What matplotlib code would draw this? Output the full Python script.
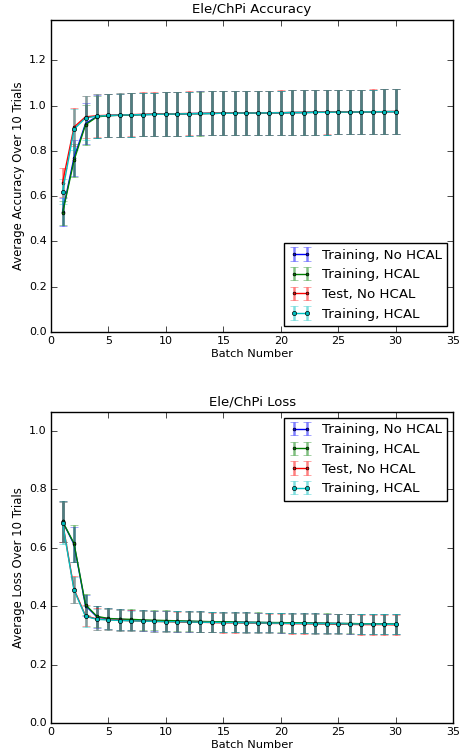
import numpy as np
import matplotlib
matplotlib.use('Agg')
import matplotlib.pyplot as plt

plt.style.use('classic')

batches = list(range(1, 31))
labels = ['Training, No HCAL', 'Training, HCAL', 'Test, No HCAL', 'Training, HCAL']
colors = ['b', 'g', 'r', 'c']

# accuracy means
acc_train_nohcal = [0.530, 0.770, 0.920, 0.952, 0.956, 0.957, 0.959, 0.960, 0.961, 0.962,
                    0.963, 0.964, 0.965, 0.965, 0.966, 0.966, 0.967, 0.967, 0.968, 0.968,
                    0.969, 0.969, 0.970, 0.970, 0.971, 0.971, 0.972, 0.972, 0.973, 0.973]
acc_train_hcal = [0.525, 0.758, 0.915, 0.950, 0.955, 0.957, 0.958, 0.960, 0.961, 0.962,
                  0.963, 0.964, 0.964, 0.965, 0.966, 0.966, 0.967, 0.967, 0.968, 0.968,
                  0.969, 0.969, 0.970, 0.970, 0.971, 0.971, 0.972, 0.972, 0.973, 0.973]
acc_test_nohcal = [0.660, 0.905, 0.950, 0.955, 0.957, 0.958, 0.960, 0.961, 0.962, 0.963,
                   0.964, 0.965, 0.965, 0.966, 0.966, 0.967, 0.967, 0.968, 0.968, 0.969,
                   0.969, 0.970, 0.970, 0.971, 0.971, 0.972, 0.972, 0.973, 0.973, 0.974]
acc_train_hcal2 = [0.620, 0.895, 0.945, 0.953, 0.956, 0.958, 0.959, 0.960, 0.961, 0.962,
                   0.963, 0.964, 0.965, 0.965, 0.966, 0.966, 0.967, 0.967, 0.968, 0.968,
                   0.969, 0.969, 0.970, 0.970, 0.971, 0.971, 0.972, 0.972, 0.973, 0.973]

# accuracy std devs
acc_err_train_nohcal = [0.060, 0.080, 0.090, 0.095, 0.095, 0.096, 0.096, 0.096, 0.096, 0.096,
                        0.096, 0.097, 0.097, 0.097, 0.097, 0.097, 0.097, 0.097, 0.097, 0.098,
                        0.098, 0.098, 0.098, 0.098, 0.098, 0.098, 0.098, 0.098, 0.098, 0.098]
acc_err_train_hcal = [0.052, 0.072, 0.088, 0.094, 0.095, 0.096, 0.096, 0.096, 0.096, 0.096,
                      0.096, 0.097, 0.097, 0.097, 0.097, 0.097, 0.097, 0.097, 0.097, 0.098,
                      0.098, 0.098, 0.098, 0.098, 0.098, 0.098, 0.098, 0.098, 0.098, 0.098]
acc_err_test_nohcal = [0.062, 0.085, 0.092, 0.096, 0.096, 0.096, 0.096, 0.097, 0.097, 0.097,
                       0.097, 0.097, 0.097, 0.097, 0.097, 0.097, 0.097, 0.098, 0.098, 0.098,
                       0.098, 0.098, 0.098, 0.098, 0.098, 0.098, 0.098, 0.098, 0.098, 0.098]
acc_err_train_hcal2 = [0.055, 0.090, 0.095, 0.096, 0.096, 0.096, 0.096, 0.096, 0.096, 0.096,
                       0.097, 0.097, 0.097, 0.097, 0.097, 0.097, 0.097, 0.097, 0.097, 0.098,
                       0.098, 0.098, 0.098, 0.098, 0.098, 0.098, 0.098, 0.098, 0.098, 0.098]

# loss means
loss_train_nohcal = [0.690, 0.612, 0.402, 0.363, 0.357, 0.355, 0.353, 0.351, 0.350, 0.349,
                     0.348, 0.348, 0.347, 0.346, 0.346, 0.345, 0.345, 0.344, 0.344, 0.343,
                     0.343, 0.342, 0.342, 0.341, 0.341, 0.340, 0.340, 0.339, 0.339, 0.338]
loss_train_hcal = [0.690, 0.615, 0.405, 0.365, 0.358, 0.356, 0.355, 0.353, 0.352, 0.351,
                   0.350, 0.349, 0.348, 0.347, 0.347, 0.346, 0.345, 0.345, 0.344, 0.344,
                   0.343, 0.343, 0.342, 0.342, 0.341, 0.341, 0.340, 0.340, 0.339, 0.339]
loss_test_nohcal = [0.688, 0.458, 0.367, 0.356, 0.354, 0.352, 0.350, 0.349, 0.348, 0.347,
                    0.346, 0.345, 0.345, 0.344, 0.343, 0.343, 0.342, 0.342, 0.341, 0.341,
                    0.340, 0.340, 0.339, 0.339, 0.338, 0.338, 0.337, 0.337, 0.337, 0.336]
loss_train_hcal2 = [0.685, 0.455, 0.365, 0.355, 0.353, 0.351, 0.350, 0.349, 0.348, 0.347,
                    0.347, 0.346, 0.345, 0.345, 0.344, 0.344, 0.343, 0.343, 0.342, 0.342,
                    0.341, 0.341, 0.340, 0.340, 0.340, 0.339, 0.339, 0.339, 0.338, 0.338]

# loss std devs
loss_err_train_nohcal = [0.070, 0.060, 0.037, 0.037, 0.036, 0.036, 0.035, 0.035, 0.035, 0.035,
                         0.035, 0.035, 0.035, 0.034, 0.034, 0.034, 0.034, 0.034, 0.034, 0.034,
                         0.034, 0.034, 0.034, 0.034, 0.034, 0.034, 0.034, 0.034, 0.034, 0.034]
loss_err_train_hcal = [0.070, 0.062, 0.036, 0.037, 0.036, 0.036, 0.035, 0.035, 0.035, 0.035,
                       0.035, 0.035, 0.035, 0.034, 0.034, 0.034, 0.034, 0.034, 0.034, 0.034,
                       0.034, 0.034, 0.034, 0.034, 0.034, 0.034, 0.034, 0.034, 0.034, 0.034]
loss_err_test_nohcal = [0.068, 0.046, 0.036, 0.038, 0.036, 0.036, 0.036, 0.035, 0.035, 0.035,
                        0.035, 0.035, 0.035, 0.034, 0.034, 0.034, 0.034, 0.034, 0.034, 0.034,
                        0.034, 0.034, 0.034, 0.034, 0.034, 0.034, 0.034, 0.034, 0.034, 0.034]
loss_err_train_hcal2 = [0.072, 0.045, 0.035, 0.037, 0.036, 0.036, 0.035, 0.035, 0.035, 0.035,
                        0.035, 0.035, 0.035, 0.034, 0.034, 0.034, 0.034, 0.034, 0.034, 0.034,
                        0.034, 0.034, 0.034, 0.034, 0.034, 0.034, 0.034, 0.034, 0.034, 0.034]

acc = [acc_train_nohcal, acc_train_hcal, acc_test_nohcal, acc_train_hcal2]
acc_err = [acc_err_train_nohcal, acc_err_train_hcal, acc_err_test_nohcal, acc_err_train_hcal2]
loss = [loss_train_nohcal, loss_train_hcal, loss_test_nohcal, loss_train_hcal2]
loss_err = [loss_err_train_nohcal, loss_err_train_hcal, loss_err_test_nohcal, loss_err_train_hcal2]

fig = plt.figure(figsize=(4.6, 7.53), dpi=100, facecolor='white')
ax1 = fig.add_axes([0.111, 0.559, 0.874, 0.4146])
ax2 = fig.add_axes([0.111, 0.0398, 0.874, 0.4131])


def draw(ax, means, errs):
    for i in range(4):
        marker = 'o' if i == 3 else '.'
        ms = 3 if i == 3 else 4
        eb = ax.errorbar(batches, means[i], yerr=errs[i], color=colors[i], fmt='-',
                         marker=marker, markersize=ms, markeredgecolor='k',
                         markeredgewidth=0.5, linewidth=1.0, elinewidth=1.8,
                         capsize=3, capthick=1.0, label=labels[i])
        for part in eb[1] + eb[2]:
            part.set_alpha(0.5)


def style(ax, title, ylabel, loc):
    ax.set_xlim(0, 35)
    ax.set_title(title, fontsize=9.5, pad=5)
    ax.set_xlabel('Batch Number', fontsize=8.2, labelpad=2)
    ax.set_ylabel(ylabel, fontsize=8.4, labelpad=3)
    ax.tick_params(labelsize=8, pad=3)
    ax.legend(loc=loc, fontsize=9.6, numpoints=2, borderaxespad=0.45,
              handlelength=1.6, handletextpad=0.8)


draw(ax1, acc, acc_err)
ax1.set_ylim(0, 1.378)
ax1.set_yticks(np.arange(0, 1.21, 0.2))
style(ax1, 'Ele/ChPi Accuracy', 'Average Accuracy Over 10 Trials', 'lower right')

draw(ax2, loss, loss_err)
ax2.set_ylim(0, 1.065)
ax2.set_yticks(np.arange(0, 1.01, 0.2))
style(ax2, 'Ele/ChPi Loss', 'Average Loss Over 10 Trials', 'upper right')

fig.savefig('out.png', dpi=100, facecolor='white')
